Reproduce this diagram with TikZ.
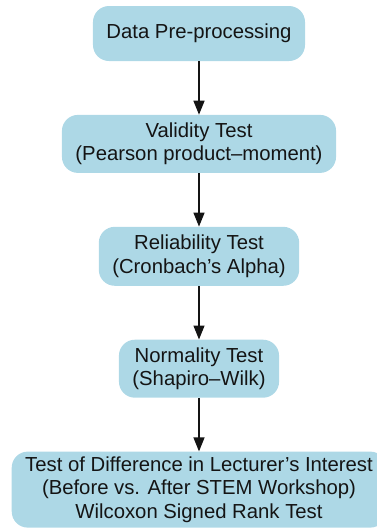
\documentclass[tikz,border=0pt]{standalone}
\usepackage{fontspec}
\setmainfont{Liberation Sans}
\usetikzlibrary{positioning,arrows.meta}
\definecolor{boxblue}{HTML}{ADD8E6}
\definecolor{inkgray}{HTML}{141414}

\begin{document}
\begin{tikzpicture}[x=1pt, y=1pt, node distance=53.5pt,
    font=\fontsize{20.3}{23.3}\selectfont,
    stage/.style={rectangle, rounded corners=16pt, fill=boxblue, text=inkgray,
      align=center, inner xsep=13.5pt, inner ysep=4pt, minimum height=#1},
    stage/.default=58pt,
    flow/.style={-{Triangle[length=14pt,width=11pt]}, line width=1.4pt, draw=inkgray}]
  \useasboundingbox (0,0) rectangle (377,-528);
  \clip (0,0) rectangle (377,-528);

  \node[stage=55pt] (prep) at (199,-33.5) {Data Pre-processing};
  \node[stage] (validity) [below=of prep] {Validity Test\\(Pearson product–moment)};
  \node[stage=59pt] (reliability) [below=of validity] {Reliability Test\\(Cronbach’s Alpha)};
  \node[stage] (normality) [below=of reliability] {Normality Test\\(Shapiro–Wilk)};
  \node[stage=76pt, minimum width=374pt] (difference) [below=of normality]
    {Test of Difference in Lecturer’s Interest\\(Before vs. After STEM Workshop)\\Wilcoxon Signed Rank Test};

  \draw[flow] (prep) -- (validity);
  \draw[flow] (validity) -- (reliability);
  \draw[flow] (reliability) -- (normality);
  \draw[flow] (normality) -- (difference);
\end{tikzpicture}
\end{document}
